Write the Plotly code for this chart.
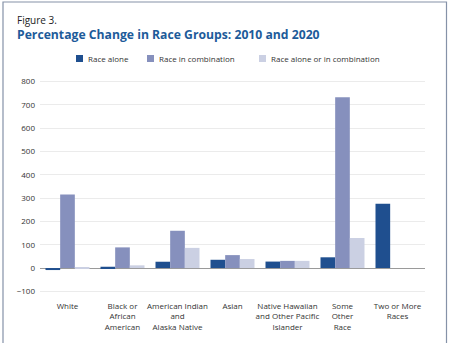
import plotly.graph_objects as go

categories = ["White", "Black or<br>African<br>American", "American Indian<br>and<br>Alaska Native",
              "Asian", "Native Hawaiian<br>and Other Pacific<br>Islander", "Some<br>Other<br>Race",
              "Two or More<br>Races"]
race_alone = [-8.6, 5.6, 27.1, 35.5, 27.8, 46.1, 276.0]
race_in_combination = [316.0, 88.7, 160.0, 55.5, 30.8, 733.0, None]
race_alone_or_in_combination = [1.9, 11.6, 86.5, 38.6, 30.8, 129.0, None]
series_names = ["Race alone", "Race in combination", "Race alone or in combination"]
colors = ["#1f4f8f", "#8690bd", "#cbd0e3"]
y_ticks = [-100, 0, 100, 200, 300, 400, 500, 600, 700, 800]

FONT = "Open Sans"
fig = go.Figure()
for name, vals, col in zip(series_names,
                           [race_alone, race_in_combination, race_alone_or_in_combination],
                           colors):
    fig.add_trace(go.Bar(x=categories, y=vals, name=name, marker_color=col,
                         marker_line_width=0, showlegend=False))

fig.update_layout(
    width=450, height=343,
    margin=dict(l=40, r=25, t=77, b=47),
    paper_bgcolor="white", plot_bgcolor="white",
    barmode="group", bargap=0.2, bargroupgap=0,
    font=dict(family=FONT, size=8, color="#333333"),
    xaxis=dict(showgrid=False, zeroline=False, showline=False, ticks="",
               tickfont=dict(size=8, color="#333333"), tickangle=0, ticklabelstandoff=4),
    yaxis=dict(range=[-120, 820], tickvals=y_ticks, showgrid=True, gridcolor="#ebebeb",
               gridwidth=1, zeroline=True, zerolinecolor="#9a9a9a", zerolinewidth=1,
               tickfont=dict(size=8, color="#333333"), ticks="", ticklabelstandoff=4),
)

def py(p):
    return (296 - p) / 219

def px(p):
    return (p - 40) / 385

# frame
fig.add_shape(type="rect", xref="paper", yref="paper", x0=px(3), x1=px(446.5),
              y0=py(360), y1=py(2), line=dict(color="#8592a8", width=1.2),
              fillcolor="rgba(0,0,0,0)", layer="below")

fig.add_annotation(xref="paper", yref="paper", x=px(16), y=py(28.5), text="Figure 3.",
                   showarrow=False, xanchor="left", yanchor="bottom", borderpad=0,
                   font=dict(family=FONT, size=10, color="#222222"))
fig.add_annotation(xref="paper", yref="paper", x=px(15.5), y=py(44),
                   text="<b>Percentage Change in Race Groups: 2010 and 2020</b>",
                   showarrow=False, xanchor="left", yanchor="bottom", borderpad=0,
                   font=dict(family=FONT, size=12.2, color="#1d5b9a"))

# legend (custom)
leg_x = [76, 147, 259]
for lx, name, col in zip(leg_x, series_names, colors):
    fig.add_shape(type="rect", xref="paper", yref="paper",
                  x0=px(lx), x1=px(lx + 7),
                  y0=py(62), y1=py(55), line_width=0, fillcolor=col)
    fig.add_annotation(xref="paper", yref="paper", x=px(lx + 10), y=py(58.5),
                       text=name, showarrow=False, xanchor="left", yanchor="middle",
                       font=dict(family=FONT, size=8, color="#333333"))

fig.write_html("out.html")
